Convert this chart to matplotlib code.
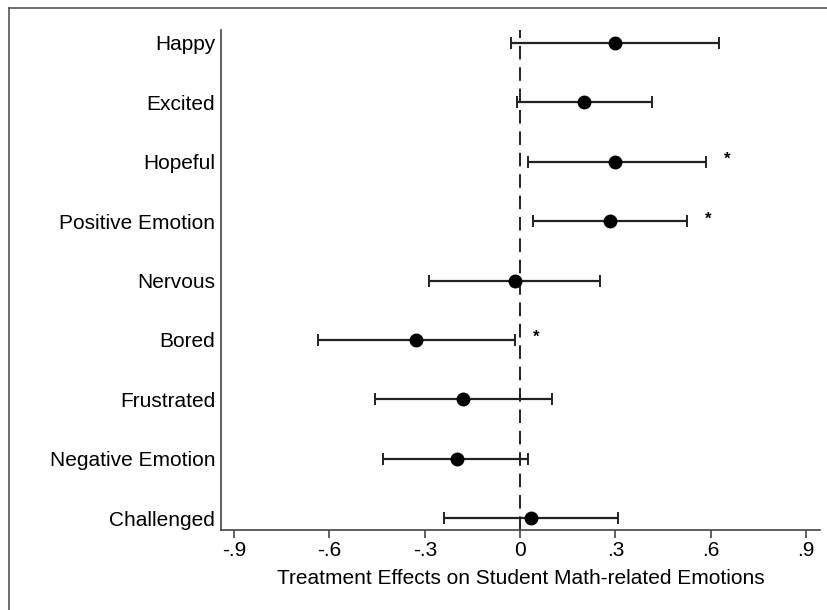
import matplotlib
matplotlib.use("Agg")
import matplotlib.pyplot as plt
from matplotlib.lines import Line2D
import numpy as np

plt.rcParams["font.family"] = ["Liberation Sans", "DejaVu Sans"]

# Datos (de arriba a abajo)
emotions = ["Happy", "Excited", "Hopeful", "Positive Emotion", "Nervous",
            "Bored", "Frustrated", "Negative Emotion", "Challenged"]
effects = [0.300, 0.200, 0.300, 0.282, -0.017, -0.329, -0.181, -0.200, 0.033]
ci_low = [-0.030, -0.011, 0.024, 0.042, -0.288, -0.637, -0.458, -0.430, -0.238]
ci_high = [0.625, 0.414, 0.584, 0.524, 0.253, -0.017, 0.102, 0.024, 0.307]
significant = [False, False, True, True, False, True, False, False, False]
x_ticks = [-0.9, -0.6, -0.3, 0, 0.3, 0.6, 0.9]
x_tick_labels = ["-.9", "-.6", "-.3", "0", ".3", ".6", ".9"]

y = np.arange(len(emotions))[::-1]
effects = np.array(effects)
err = [effects - np.array(ci_low), np.array(ci_high) - effects]

fig = plt.figure(figsize=(8.27, 6.10), dpi=100)
ax = fig.add_axes([0.267, 0.131, 0.7245, 0.820])

ax.axvline(0, color="#222222", lw=1.4, ls=(0, (7, 4)), zorder=1)
ax.errorbar(effects, y, xerr=err, fmt="o", color="black", ms=9,
            ecolor="#222222", elinewidth=1.6, capsize=4.5, capthick=1.4, zorder=3)

for yi, hi, sig in zip(y, ci_high, significant):
    if sig:
        ax.text(hi + 0.068, yi + 0.04, "*", ha="center", va="center",
                fontsize=12, fontweight="bold")

ax.set_yticks(y)
ax.set_yticklabels(emotions, fontsize=15)
ax.set_xticks(x_ticks)
ax.set_xticklabels(x_tick_labels, fontsize=15)
ax.set_xlim(-0.942, 0.944)
ax.set_ylim(-0.2, len(emotions) - 1 + 0.22)
ax.set_xlabel("Treatment Effects on Student Math-related Emotions", fontsize=15, labelpad=6)

ax.spines["top"].set_visible(False)
ax.spines["right"].set_visible(False)
for s in ["left", "bottom"]:
    ax.spines[s].set_color("#444444")
    ax.spines[s].set_linewidth(1.2)
ax.tick_params(axis="y", length=0, pad=4)
ax.tick_params(axis="x", length=6, width=1.2, color="#444444", pad=2)

# marco exterior (lineas superior e izquierda)
fig.add_artist(Line2D([9 / 827, 1], [1 - 8 / 610, 1 - 8 / 610], color="#555555", lw=1.2))
fig.add_artist(Line2D([9 / 827, 9 / 827], [0, 1 - 8 / 610], color="#555555", lw=1.2))

fig.savefig("out.png", dpi=100, facecolor="white")
